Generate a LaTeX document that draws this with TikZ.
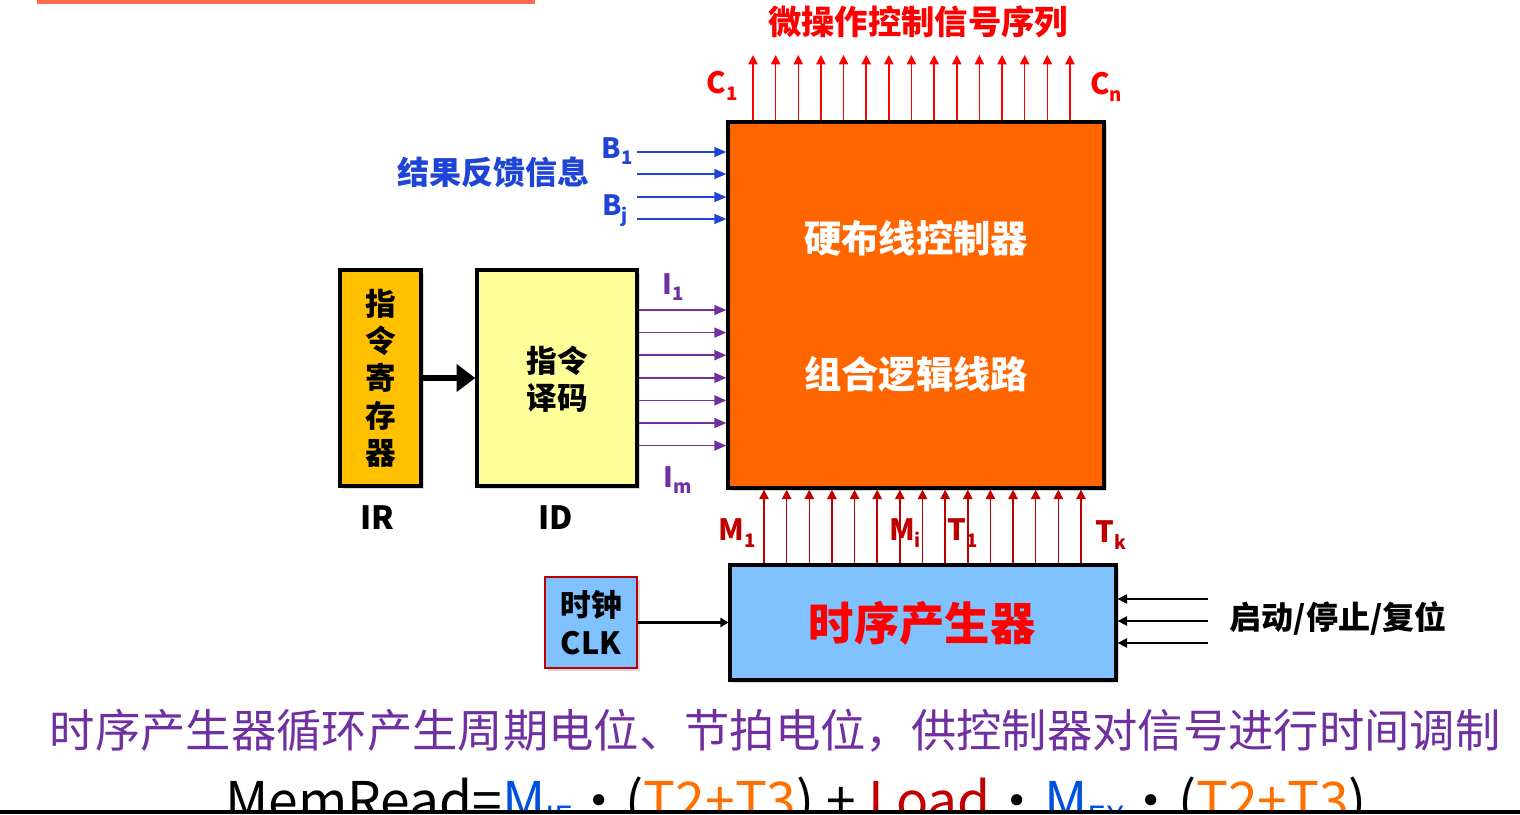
\documentclass[tikz,border=0pt]{standalone}
\usepackage{fontspec}
\usepackage{xcolor}
\usetikzlibrary{arrows.meta,shadows}
\newfontfamily\cjk{Noto Sans CJK SC}
\definecolor{ctrlorange}{HTML}{FF6600}
\definecolor{sigred}{HTML}{FF0000}
\definecolor{darkred}{HTML}{C00000}
\definecolor{fbblue}{HTML}{1F45D6}
\definecolor{decpurple}{HTML}{7030A0}
\definecolor{irgold}{HTML}{FFC000}
\definecolor{idyellow}{HTML}{FFFF99}
\definecolor{timeblue}{HTML}{80C1FF}
\definecolor{barorange}{HTML}{FF6A4D}
\definecolor{formorange}{HTML}{FF7000}
\definecolor{formblue}{HTML}{0050E0}
\newcommand{\subtxt}[1]{\raisebox{-0.45ex}{\fontsize{14}{14}\selectfont #1}}
\newcommand{\fsub}[1]{\raisebox{-7pt}{\fontsize{24}{24}\selectfont #1}}

\tikzset{
  blockbox/.style={draw=black, line width=2.5pt, rectangle, inner sep=0pt, anchor=center,
    drop shadow={opacity=0.3, shadow xshift=2pt, shadow yshift=-2pt}},
  boldtxt/.style={inner sep=0pt, font=\cjk\bfseries\fontsize{#1}{#1}\selectfont},
  redsig/.style={draw=sigred, line width=1.1pt, -{Triangle[width=7pt,length=7pt]}},
  darksig/.style={draw=darkred, line width=1.1pt, -{Triangle[width=7pt,length=7pt]}},
  fbsig/.style={draw=fbblue, line width=1.3pt, -{Triangle[width=7.5pt,length=9pt]}},
  decsig/.style={draw=decpurple, line width=1.3pt, -{Triangle[width=7.5pt,length=9pt]}},
  startsig/.style={draw=black, line width=1.1pt, -{Triangle[width=7pt,length=7pt]}},
}

\begin{document}
\begin{tikzpicture}[x=0.75pt,y=0.75pt,yscale=-1,xscale=1]
    \useasboundingbox (0,0) rectangle (1520,814);

    %Top bar
    \fill [barorange] (37,-5) rectangle (535,4);

    %Blocks
    \node (ctrl) at (916,305) [blockbox, fill=ctrlorange, minimum width=282pt, minimum height=274.5pt] {};
    \node (ir) at (380.5,378) [blockbox, fill=irgold, minimum width=60.75pt, minimum height=162pt] {};
    \node (id) at (557,378) [blockbox, fill=idyellow, minimum width=120pt, minimum height=162pt] {};
    \node (timing) at (923,622.5) [blockbox, fill=timeblue, minimum width=289.5pt, minimum height=86.25pt] {};
    \node (clk) at (591,622.5) [draw=darkred, line width=1.5pt, fill=timeblue, inner sep=0pt,
      minimum width=69pt, minimum height=68.25pt,
      drop shadow={opacity=0.3, shadow xshift=2pt, shadow yshift=-2pt}] {};

    % Text Node
    \node (ctrltop) at (916,238) [boldtxt=28, text=white] {硬布线控制器};
    % Text Node
    \node (ctrlbot) at (916,374) [boldtxt=28, text=white] {组合逻辑线路};
    % Text Node
    \node (irtxt) at (380.5,378) [boldtxt=23, align=center, font=\cjk\bfseries\fontsize{23}{28}\selectfont] {指\\令\\寄\\存\\器};
    % Text Node
    \node (idtxt) at (557,379) [boldtxt=23, align=center, font=\cjk\bfseries\fontsize{23}{28}\selectfont] {指令\\译码};
    % Text Node
    \node (timetxt) at (922,623) [boldtxt=34, text=sigred] {时序产生器};
    % Text Node
    \node (clktxt) at (591,622.5) [boldtxt=23, align=center, font=\cjk\bfseries\fontsize{23}{28}\selectfont] {时钟\\CLK};

    %Micro-operation outputs
    \foreach \i in {0,...,14} {
      \coordinate (c\i) at ({753+22.64*\i},55);
      \draw [redsig] (ctrl.north -| c\i) -- (c\i);
    }
    %Timing signals
    \foreach \i in {0,...,14} {
      \coordinate (t\i) at ({764+22.64*\i},565);
      \draw [darksig] (timing.north -| t\i) -- (ctrl.south -| t\i);
    }
    %Feedback
    \foreach \y [count=\i] in {152,174,197,219} {
      \coordinate (fb\i) at (637,\y);
      \draw [fbsig] (fb\i) -- (ctrl.west |- fb\i);
    }
    %Decoder outputs
    \foreach \i in {0,...,6} {
      \coordinate (d\i) at (637,{310+22.6*\i});
      \draw [decsig] (id.east |- d\i) -- (ctrl.west |- d\i);
    }
    %Start/stop/reset
    \foreach \y [count=\i] in {599,621,643} {
      \coordinate (st\i) at (1208,\y);
      \draw [startsig] (st\i) -- (timing.east |- st\i);
    }
    %IR to ID
    \draw [line width=5pt, -{Triangle[width=20pt,length=14pt]}] (ir.east) -- (id.west);
    %CLK to timing
    \draw [line width=2pt, -{Triangle[width=7pt,length=6pt]}] (clk.east) -- (timing.west);

    % Text Node
    \node (title) at (918,22) [boldtxt=25, text=sigred] {微操作控制信号序列};
    % Text Node
    \node (cfirst) at (722,86) [boldtxt=22, text=sigred] {C\subtxt{1}};
    % Text Node
    \node (clast) at (1106,87) [boldtxt=22, text=sigred] {C\subtxt{n}};
    % Text Node
    \node (bfirst) at (617,151) [boldtxt=21, text=fbblue] {B\subtxt{1}};
    % Text Node
    \node (blast) at (615,211) [boldtxt=21, text=fbblue] {B\subtxt{j}};
    % Text Node
    \node (fbtxt) at (493,172) [boldtxt=24, text=fbblue] {结果反馈信息};
    % Text Node
    \node (ifirst) at (673,287) [boldtxt=21, text=decpurple] {I\subtxt{1}};
    % Text Node
    \node (ilast) at (678,480) [boldtxt=21, text=decpurple] {I\subtxt{m}};
    % Text Node
    \node (irlbl) at (377,518) [boldtxt=24] {IR};
    % Text Node
    \node (idlbl) at (556,518) [boldtxt=24] {ID};
    % Text Node
    \node (mfirst) at (737,533) [boldtxt=22, text=darkred] {M\subtxt{1}};
    % Text Node
    \node (mlast) at (905,533) [boldtxt=22, text=darkred] {M\subtxt{i}};
    % Text Node
    \node (tfirst) at (963,533) [boldtxt=22, text=darkred] {T\subtxt{1}};
    % Text Node
    \node (tlast) at (1111,535) [boldtxt=22, text=darkred] {T\subtxt{k}};
    % Text Node
    \node (sttxt) at (1338,618) [boldtxt=24] {启动/停止/复位};
    % Text Node
    \node (note) at (775,731) [inner sep=0pt, text=decpurple, font=\cjk\fontsize{34}{34}\selectfont]
      {时序产生器循环产生周期电位、节拍电位，供控制器对信号进行时间调制};

    %Formula, cut by the slide edge
    \begin{scope}
      \clip (0,700) rectangle (1520,811);
      \node (formula) at (225,820) [anchor=base west, inner sep=0pt, font=\cjk\fontsize{40}{40}\selectfont]
        {MemRead={\color{formblue}M\fsub{IF}}•({\color{formorange}T2+T3}) + {\color{darkred}Load}•{\color{formblue}M\fsub{EX}}•({\color{formorange}T2+T3})};
    \end{scope}
    \draw [line width=2.5pt] (0,812) -- (1520,812);
\end{tikzpicture}
\end{document}
